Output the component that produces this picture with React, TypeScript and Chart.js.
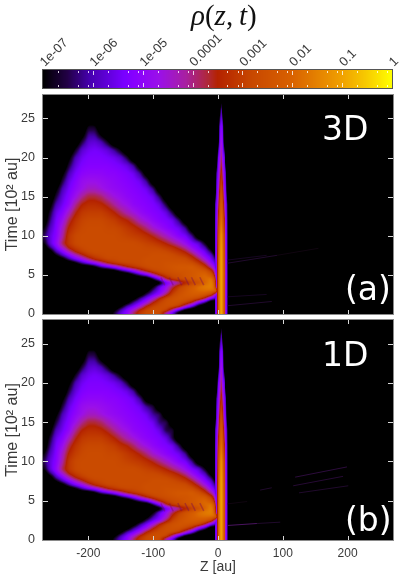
import React, { useEffect, useRef } from "react";
import { Chart, registerables } from "chart.js";
Chart.register(...registerables);

// ---- axes
const zTicks = [-200, -100, 0, 100, 200];
const tTicks = [0, 5, 10, 15, 20, 25];
const barTicks = [1e-7, 1e-6, 1e-5, 1e-4, 1e-3, 1e-2, 0.1, 1];
const barLabels = ["1e-07", "1e-06", "1e-05", "0.0001", "0.001", "0.01", "0.1", "1"];
const barMinor = [2, 5, 8];

// ---- colour scale stops: [fraction of the bar, colour]
const paletteStops: [number, number[]][] = [
  [0, [0, 0, 0]], [0.07, [34, 0, 70]], [0.134, [70, 0, 175]], [0.23, [120, 0, 255]], [0.263, [136, 0, 255]],
  [0.334, [155, 16, 232]], [0.41, [168, 32, 160]], [0.477, [176, 40, 48]], [0.5, [180, 34, 0]],
  [0.6, [200, 72, 0]], [0.71, [216, 96, 0]], [0.855, [240, 160, 0]], [0.93, [248, 205, 0]], [1, [255, 255, 0]],
];

// ---- density cells: tenths of a decade below 1 (70 = 1e-7 = black, 80 = empty)
const lobeZ = [-270, -260, -250, -240, -230, -220, -210, -200, -190, -180, -170, -160, -150, -140, -130, -120, -110, -100, -90, -80, -70, -60, -50, -40, -30, -20, -10, -4, 0];
// each row: time, first z, then values on lobeZ from there
const lobeRows: number[][] = [
  [0, -170, 80, 64, 56, 50, 36, 30, 27, 26, 28, 48, 62, 80],
  [0.5, -160, 72, 60, 52, 44, 33, 28, 26, 26, 28, 42, 58, 74],
  [1, -150, 72, 60, 54, 46, 34, 29, 27, 26, 26, 30, 42, 56, 72],
  [1.5, -140, 74, 62, 55, 47, 35, 29, 26, 25, 25, 28, 34, 50, 62, 80],
  [2, -130, 74, 62, 54, 46, 34, 28, 25, 24, 24, 25, 27, 36, 54, 58],
  [2.5, -120, 76, 64, 56, 50, 38, 29, 25, 23, 22, 22, 23, 28, 46, 52],
  [3, -110, 74, 62, 54, 46, 33, 27, 24, 21, 19, 18, 18, 18, 24],
  [3.5, -100, 70, 56, 48, 38, 30, 25, 22, 18, 16, 15, 22],
  [4, -90, 74, 56, 48, 42, 36, 30, 26, 20, 15, 24],
  [4.5, -100, 66, 52, 36, 30, 27, 25, 23, 21, 19, 17, 28],
  [5, -130, 70, 62, 54, 42, 33, 29, 27, 26, 24, 23, 21, 19, 24, 38],
  [5.5, -160, 75, 66, 58, 50, 40, 33, 29, 27, 26, 25, 24, 24, 23, 22, 23, 31, 44],
  [6, -190, 72, 62, 56, 50, 42, 35, 31, 29, 27, 26, 26, 25, 24, 23, 23, 22, 25, 31, 42, 52],
  [6.5, -220, 72, 62, 55, 50, 42, 35, 31, 29, 28, 28, 27, 26, 26, 26, 25, 25, 25, 25, 26, 31, 38, 50, 56],
  [7, -240, 74, 62, 54, 48, 40, 33, 30, 28, 28, 27, 27, 27, 27, 26, 26, 26, 26, 26, 26, 27, 31, 37, 46, 55, 62],
  [7.5, -250, 70, 60, 52, 44, 37, 31, 29, 28, 27, 27, 27, 27, 27, 27, 27, 26, 26, 26, 27, 29, 31, 36, 44, 52, 58, 70],
  [8, -260, 76, 60, 52, 42, 34, 30, 28, 27, 27, 27, 27, 27, 27, 27, 27, 27, 27, 27, 28, 30, 32, 36, 43, 50, 55, 66],
  [8.5, -270, 80, 64, 54, 44, 34, 30, 28, 27, 27, 27, 27, 27, 27, 27, 27, 27, 28, 28, 29, 31, 33, 37, 42, 49, 54, 60, 76],
  [9, -270, 72, 58, 50, 38, 31, 28, 27, 27, 27, 27, 27, 27, 27, 27, 27, 28, 29, 30, 32, 35, 39, 43, 48, 53, 56, 68, 80],
  [10, -270, 66, 57, 52, 42, 31, 28, 27, 27, 27, 27, 27, 27, 28, 29, 30, 31, 33, 36, 40, 44, 48, 52, 54, 62, 78],
  [11, -270, 72, 60, 53, 44, 34, 30, 28, 27, 27, 27, 28, 28, 29, 31, 33, 36, 40, 45, 48, 51, 53, 55, 62, 78],
  [12, -270, 80, 64, 54, 48, 38, 32, 29, 28, 28, 28, 29, 30, 33, 35, 39, 44, 47, 50, 52, 53, 55, 64, 78],
  [13, -260, 68, 56, 52, 44, 36, 31, 30, 30, 30, 32, 35, 39, 43, 46, 49, 51, 52, 53, 56, 66, 80],
  [14, -260, 74, 60, 55, 50, 41, 35, 33, 33, 34, 37, 41, 45, 47, 50, 51, 52, 53, 56, 66, 80],
  [15, -260, 80, 66, 57, 52, 47, 41, 37, 37, 39, 43, 46, 48, 50, 51, 52, 53, 55, 64, 78],
  [16, -250, 72, 60, 54, 50, 47, 44, 44, 46, 48, 49, 50, 51, 52, 53, 55, 62, 78],
  [17, -250, 80, 66, 56, 52, 48, 47, 47, 48, 49, 50, 51, 52, 53, 55, 62, 78],
  [18, -240, 72, 60, 54, 51, 50, 50, 50, 51, 51, 52, 53, 55, 62, 76],
  [19, -240, 80, 66, 57, 53, 52, 52, 52, 52, 53, 54, 56, 62, 76],
  [20, -230, 72, 60, 55, 53, 53, 53, 54, 55, 58, 66],
  [21, -230, 80, 68, 58, 55, 54, 55, 57, 62, 70],
  [22, -220, 78, 66, 58, 57, 60, 68],
  [23, -210, 75, 62, 62, 72],
  [24, -200, 68, 68],
  [25, -200, 80, 80],
];
// panel (b) differs from (a) in a few cells: time, z, value
const lobeEditsB: number[][] = [
  [17, -100, 66], [17, -90, 80], [16, -90, 64], [16, -80, 78], [15, -80, 64], [15, -70, 78], [14, -70, 66], [14, -60, 80],
];
// central peak: distance from its centre, and rows of time then value at each distance
const jetCentre = 5;
const jetDist = [0, 2, 5, 7, 9, 11];
const jetRows: number[][] = [
  [0, 9, 14, 24, 52, 55, 80], [5, 9, 14, 24, 50, 55, 80], [8, 10, 15, 26, 50, 56, 80], [10, 12, 17, 28, 52, 56, 80],
  [12, 17, 22, 34, 52, 57, 80], [14, 22, 26, 42, 53, 60, 80], [16, 27, 32, 50, 55, 75, 80], [18, 32, 40, 53, 60, 80, 80],
  [20, 38, 48, 56, 80, 80, 80], [22, 46, 52, 75, 80, 80, 80], [24, 52, 56, 80, 80, 80, 80], [26, 58, 72, 80, 80, 80, 80],
  [27, 68, 80, 80, 80, 80, 80], [28, 80, 80, 80, 80, 80, 80],
];

// ---- thin features
const fringeZ = [-25, -38, -48, -59, -72, -85];
const fringeT = [4.2, 4.2, 4.2, 4.2, 4.15, 4.15];
const streaksA = [
  { z: [15, 91], t: [6.5, 7.5], c: "#200a2c" }, { z: [91, 155], t: [7.5, 8.4], c: "#100510" },
  { z: [15, 75], t: [6.9, 7.5], c: "#160620" }, { z: [15, 83], t: [1.06, 1.6], c: "#200a2c" },
  { z: [15, 75], t: [2.2, 2.5], c: "#160620" },
];
const streaksB = [
  { z: [119, 199], t: [8, 9.3], c: "#2c0c3c" }, { z: [125, 201], t: [6, 6.9], c: "#200a2c" },
  { z: [116, 193], t: [6.9, 8.1], c: "#260a34" }, { z: [65, 83], t: [6.35, 6.65], c: "#200a2c" },
  { z: [15, 60], t: [1.85, 2.1], c: "#4a1460" }, { z: [60, 96], t: [2.1, 2.27], c: "#200a2c" },
  { z: [15, 45], t: [4.6, 4.9], c: "#100510" },
];

const SANS = "'Liberation Sans', Arial, sans-serif";
const INK = "#3a3a3a";

function mix(f: number) {
  const x = Math.max(0, Math.min(1, f));
  for (let i = 1; i < paletteStops.length; i++) {
    const [a, ca] = paletteStops[i - 1];
    const [b, cb] = paletteStops[i];
    if (x <= b) {
      const u = (x - a) / (b - a);
      return `rgb(${ca.map((c, k) => Math.round(c + (cb[k] - c) * u)).join(",")})`;
    }
  }
  return "rgb(255,255,0)";
}
const lut: string[] = [];
for (let i = 0; i <= 700; i++) lut.push(mix(i / 700));

function seg(arr: number[], v: number) {
  let i = 0;
  while (i < arr.length - 2 && arr[i + 1] < v) i++;
  const u = Math.max(0, Math.min(1, (v - arr[i]) / (arr[i + 1] - arr[i])));
  return [i, u];
}
function lobeGrid(edits: number[][]) {
  const g = lobeRows.map((r) => {
    const out = lobeZ.map(() => 80);
    const s = lobeZ.indexOf(r[1]);
    r.slice(2).forEach((v, k) => { if (s + k < out.length) out[s + k] = v; });
    return out;
  });
  const ts = lobeRows.map((r) => r[0]);
  edits.forEach(([t, z, v]) => { g[ts.indexOf(t)][lobeZ.indexOf(z)] = v; });
  return { ts, g };
}
function heatPlugin(edits: number[][]) {
  const { ts, g } = lobeGrid(edits);
  const jt = jetRows.map((r) => r[0]);
  return {
    id: "heat",
    beforeDatasetsDraw(chart: any) {
      const { ctx, chartArea: a, scales } = chart;
      ctx.fillStyle = "#000";
      ctx.fillRect(a.left, a.top, a.right - a.left, a.bottom - a.top);
      const L = Math.round(a.left), R = Math.round(a.right), T = Math.round(a.top), B = Math.round(a.bottom);
      const W = R - L, H = B - T;
      let field = new Float32Array(W * H);
      for (let py = 0; py < H; py++) {
        const t = scales.y.getValueForPixel(T + py + 0.5);
        const [ri, ru] = seg(ts, t);
        for (let px = 0; px < W; px++) {
          const z = scales.x.getValueForPixel(L + px + 0.5);
          let v = 74;
          if (z <= 0 && t <= 25) {
            const [ci, cu] = seg(lobeZ, z);
            const a0 = g[ri][ci] + (g[ri][ci + 1] - g[ri][ci]) * cu;
            const a1 = g[ri + 1][ci] + (g[ri + 1][ci + 1] - g[ri + 1][ci]) * cu;
            v = Math.min(74, a0 + (a1 - a0) * ru);
          }
          field[py * W + px] = v;
        }
      }
      // soften the cell edges over a 3-pixel neighbourhood, as the rasterised original does
      for (let pass = 0; pass < 2; pass++) {
        const out = new Float32Array(W * H);
        for (let py = 0; py < H; py++) for (let px = 0; px < W; px++) {
          let s = 0, n = 0;
          for (let dy = -1; dy <= 1; dy++) for (let dx = -1; dx <= 1; dx++) {
            const qy = py + dy, qx = px + dx;
            if (qy < 0 || qy >= H || qx < 0 || qx >= W) continue;
            s += field[qy * W + qx]; n++;
          }
          out[py * W + px] = s / n;
        }
        field = out;
      }
      for (let py = 0; py < H; py++) {
        const t = scales.y.getValueForPixel(T + py + 0.5);
        const [ji, ju] = seg(jt, t);
        for (let px = 0; px < W; px++) {
          const z = scales.x.getValueForPixel(L + px + 0.5);
          let v = field[py * W + px];
          const d = Math.abs(z - jetCentre);
          if (d < 11) {
            const [di, du] = seg(jetDist, d);
            const r0 = jetRows[ji], r1 = jetRows[ji + 1];
            const a0 = r0[di + 1] + (r0[di + 2] - r0[di + 1]) * du;
            const a1 = r1[di + 1] + (r1[di + 2] - r1[di + 1]) * du;
            v = Math.min(v, a0 + (a1 - a0) * ju);
          }
          if (v >= 70) continue;
          ctx.fillStyle = lut[Math.round(700 - v * 10)];
          ctx.fillRect(L + px, T + py, 1, 1);
        }
      }
    },
  };
}
const framePlugin = (big: string, small: string, bigY: number, smallY: number) => ({
  id: "frame",
  afterDatasetsDraw(chart: any) {
    const { ctx, chartArea: a, scales } = chart;
    ctx.save();
    ctx.strokeStyle = "#d8d8d8";
    ctx.lineWidth = 1;
    ctx.beginPath();
    scales.x.ticks.forEach((k: any) => {
      const x = Math.round(scales.x.getPixelForValue(k.value)) + 0.5;
      ctx.moveTo(x, a.top); ctx.lineTo(x, a.top + 4);
      ctx.moveTo(x, a.bottom); ctx.lineTo(x, a.bottom - 4);
    });
    scales.y.ticks.forEach((k: any) => {
      const y = Math.round(scales.y.getPixelForValue(k.value)) + 0.5;
      ctx.moveTo(a.left, y); ctx.lineTo(a.left + 5, y);
      ctx.moveTo(a.right, y); ctx.lineTo(a.right - 5, y);
    });
    ctx.stroke();
    ctx.strokeStyle = "#8a8a8a";
    ctx.strokeRect(Math.round(a.left) - 0.5, Math.round(a.top) - 0.5, a.right - a.left + 1, a.bottom - a.top + 1);
    ctx.fillStyle = "#fff";
    ctx.font = "33px 'DejaVu Sans'";
    ctx.textAlign = "left";
    ctx.textBaseline = "alphabetic";
    ctx.fillText(big, 322, bigY);
    ctx.fillText(small, 345, smallY);
    ctx.restore();
  },
});

function lineSets(streaks: { z: number[]; t: number[]; c: string }[]) {
  const sets: any[] = [];
  streaks.forEach((s) => sets.push({
    data: s.z.map((z, i) => ({ x: z, y: s.t[i] })), borderColor: s.c, borderWidth: 1, pointRadius: 0, showLine: true, fill: false,
  }));
  fringeZ.forEach((z, i) => sets.push({
    data: [{ x: z - 3, y: fringeT[i] + 0.5 }, { x: z + 3, y: fringeT[i] - 0.5 }],
    borderColor: "rgba(120,10,80,0.4)", borderWidth: 1.5, pointRadius: 0, showLine: true, fill: false,
  }));
  return sets;
}

function panelConfig(streaks: any[], edits: number[][], big: string, small: string, bigY: number, smallY: number, top: number, bottomLabels: boolean): any {
  return {
    type: "scatter",
    data: { datasets: lineSets(streaks) },
    plugins: [heatPlugin(edits), framePlugin(big, small, bigY, smallY)],
    options: {
      animation: false, responsive: false, events: [],
      layout: { padding: { top, right: 6, bottom: bottomLabels ? 0 : 6, left: 0 } },
      plugins: { legend: { display: false }, tooltip: { enabled: false } },
      scales: {
        x: {
          type: "linear", min: -270, max: 270,
          grid: { display: false, drawTicks: false }, border: { display: false },
          afterBuildTicks: (s: any) => { s.ticks = zTicks.map((value) => ({ value })); },
          ticks: { display: bottomLabels, color: INK, font: { family: SANS, size: 12 }, padding: 6, maxRotation: 0, autoSkip: false, callback: (v: any) => String(v) },
          title: { display: bottomLabels, text: "Z [au]", color: INK, font: { family: SANS, size: 14 }, padding: { top: 1, bottom: 2 } },
          afterFit: (s: any) => { s.height = bottomLabels ? 38 : 0; s.paddingLeft = 0; s.paddingRight = 0; },
        },
        y: {
          type: "linear", min: 0, max: 28,
          grid: { display: false, drawTicks: false }, border: { display: false },
          afterBuildTicks: (s: any) => { s.ticks = tTicks.map((value) => ({ value })); },
          ticks: { color: INK, font: { family: SANS, size: 12.5 }, padding: 8, autoSkip: false, callback: (v: any) => String(v) },
          title: { display: true, text: "Time [10² au]", color: INK, font: { family: SANS, size: 16 }, padding: { top: 3, bottom: 0 } },
          afterFit: (s: any) => { s.width = 43; s.paddingTop = 0; s.paddingBottom = 0; },
        },
      },
    },
  };
}

const barPlugin = {
  id: "bar",
  beforeDatasetsDraw(chart: any) {
    const { ctx, chartArea: a, scales } = chart;
    const x = scales.x;
    for (let px = Math.round(a.left); px < Math.round(a.right); px++) {
      const f = 1 + Math.log10(x.getValueForPixel(px + 0.5)) / 7;
      ctx.fillStyle = mix(f);
      ctx.fillRect(px, a.top, 1, a.bottom - a.top);
    }
  },
  afterDatasetsDraw(chart: any) {
    const { ctx, chartArea: a, scales } = chart;
    const x = scales.x;
    ctx.save();
    ctx.strokeStyle = "rgba(255,255,255,0.8)";
    ctx.lineWidth = 1;
    ctx.beginPath();
    barTicks.slice(0, -1).forEach((d, i) => {
      const ticks = [d, ...barMinor.map((m) => m * d)];
      ticks.forEach((v, k) => {
        if (i === 0 && k === 0) return;
        const p = Math.round(x.getPixelForValue(v)) + 0.5;
        const len = k === 0 ? 4 : 2;
        ctx.moveTo(p, a.top + 1); ctx.lineTo(p, a.top + 1 + len);
        ctx.moveTo(p, a.bottom - 1); ctx.lineTo(p, a.bottom - 1 - len);
      });
    });
    ctx.stroke();
    ctx.strokeStyle = "#555";
    ctx.lineWidth = 1;
    ctx.strokeRect(Math.round(a.left) - 0.5, Math.round(a.top) - 0.5, a.right - a.left + 1, a.bottom - a.top + 1);
    // rotated tick labels, anchored on the log scale
    ctx.fillStyle = INK;
    ctx.font = `13px ${SANS}`;
    ctx.textAlign = "left";
    ctx.textBaseline = "alphabetic";
    barTicks.forEach((v, i) => {
      ctx.save();
      ctx.translate(x.getPixelForValue(v) + 2, a.top - 3);
      ctx.rotate(-Math.PI / 4);
      ctx.fillText(barLabels[i], 0, 0);
      ctx.restore();
    });
    ctx.restore();
  },
};
const barConfig: any = {
  type: "scatter",
  data: { datasets: [{ data: barTicks.map((v) => ({ x: v, y: 0 })), pointRadius: 0 }] },
  plugins: [barPlugin],
  options: {
    animation: false, responsive: false, events: [],
    layout: { padding: { top: 0, right: 7, bottom: 4, left: 43 } },
    plugins: { legend: { display: false }, tooltip: { enabled: false } },
    scales: {
      x: {
        type: "logarithmic", position: "top", min: 1e-7, max: 1,
        grid: { display: false, drawTicks: false }, border: { display: false },
        afterBuildTicks: (s: any) => { s.ticks = barTicks.map((value) => ({ value })); },
        ticks: { display: false },
        afterFit: (s: any) => { s.height = 70; s.paddingLeft = 0; s.paddingRight = 0; },
      },
      y: { display: false, min: -1, max: 1 },
    },
  },
};

function Canvas({ cfg, top, height }: { cfg: any; top: number; height: number }) {
  const ref = useRef<HTMLCanvasElement>(null);
  useEffect(() => {
    const c = new Chart(ref.current as HTMLCanvasElement, cfg);
    return () => c.destroy();
  }, []);
  return <canvas ref={ref} width={399} height={height} style={{ position: "absolute", left: 0, top, width: 399, height, display: "block" }} />;
}

const cfgA = panelConfig(streaksA, [], "3D", "(a)", 52, 212, 7, false);
const cfgB = panelConfig(streaksB, lobeEditsB, "1D", "(b)", 54, 219, 8, true);

export default function App() {
  useEffect(() => { document.body.style.margin = "0"; document.body.style.background = "#fff"; }, []);
  return (
    <div style={{ position: "absolute", left: 0, top: 0, width: 399, height: 578, overflow: "hidden", background: "#fff" }}>
      <Canvas cfg={cfgB} top={312} height={266} />
      <Canvas cfg={cfgA} top={88} height={232} />
      <Canvas cfg={barConfig} top={0} height={92} />
      <div style={{ position: "absolute", left: 191, top: -1, fontFamily: "'Liberation Serif', serif", fontSize: 29, color: "#111", whiteSpace: "nowrap" }}>
        <i>ρ</i>(<i>z</i>,&#8201;<i>t</i>)
      </div>
    </div>
  );
}
